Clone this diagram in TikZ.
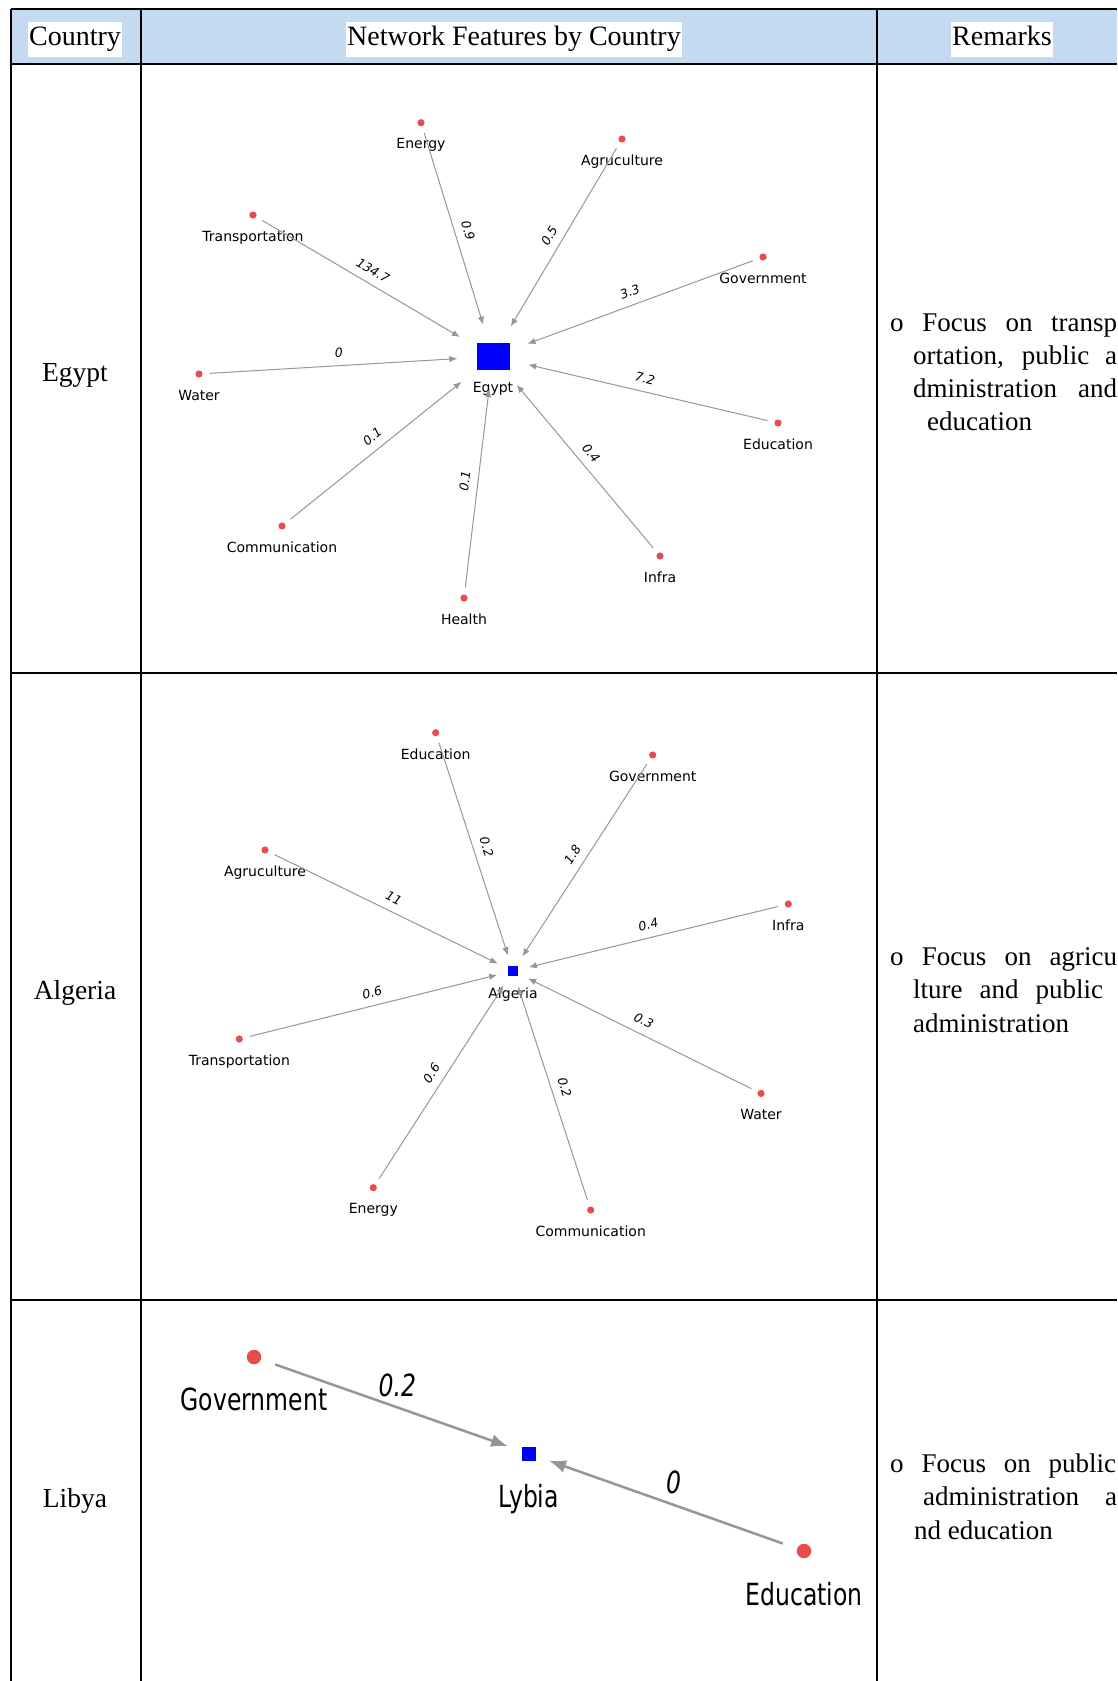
\documentclass[tikz,border=0pt]{standalone}
\usepackage{fontspec}
\setmainfont{Liberation Serif}
\newfontfamily\netfont{DejaVu Sans}
\newfontfamily\netbig[FakeStretch=0.77]{DejaVu Sans}
\usetikzlibrary{arrows.meta,positioning}
\definecolor{headblue}{RGB}{197,217,241}
\definecolor{dotred}{RGB}{233,76,76}
\definecolor{linkgray}{RGB}{150,150,150}

\begin{document}
\begin{tikzpicture}[x=1pt, y=-1pt]
    \tikzset{
        rule/.style={draw=black, line width=1.3pt},
        cellhead/.style={fill=white, inner xsep=1.5pt, inner ysep=4pt, text height=20pt, text depth=7pt, font=\fontsize{28pt}{33pt}\selectfont},
        rowname/.style={font=\fontsize{27.5pt}{33pt}\selectfont},
        remark/.style={anchor=base west, inner sep=0pt, font=\fontsize{27pt}{33pt}\selectfont},
        src/.style={circle, fill=dotred, minimum size=7.2pt, inner sep=0pt},
        srcbig/.style={circle, fill=dotred, minimum size=14.5pt, inner sep=0pt},
        hub/.style={fill=blue, inner sep=0pt},
        lbl/.style={font=\netfont\fontsize{14pt}{14pt}\selectfont, yshift=-8.5pt},
        lblbig/.style={font=\netbig\fontsize{30.5pt}{30.5pt}\selectfont, yshift=-20pt},
        link/.style={draw=linkgray, line width=1pt, -{Latex[length=8pt,width=6.5pt]}, shorten <=7pt, shorten >=19pt},
        linksm/.style={link, shorten >=11pt},
        linkbig/.style={draw=linkgray, line width=2.5pt, -{Latex[length=17pt,width=13pt]}, shorten <=15pt, shorten >=14pt},
        wt/.style={font=\netfont\itshape\fontsize{12.5pt}{12.5pt}\selectfont, sloped, above, pos=0.5, inner sep=8pt},
        wtbig/.style={font=\netbig\itshape\fontsize{30.5pt}{30.5pt}\selectfont, above, inner sep=9pt}
    }

    \useasboundingbox (0,0) rectangle (1117,1681);

    \fill[headblue] (11,9) rectangle (1117,64);
    \draw[rule] (11,9) -- (1117,9);
    \draw[rule] (11,64) -- (1117,64);
    \draw[rule] (11,673) -- (1117,673);
    \draw[rule] (11,1300) -- (1117,1300);
    \draw[rule] (11,9) -- (11,1681);
    \draw[rule] (141,9) -- (141,1681);
    \draw[rule] (877,9) -- (877,1681);

    \node[cellhead] (hCountry) at (75,39) {Country};
    \node[cellhead] (hNetwork) at (514,39) {Network Features by Country};
    \node[cellhead] (hRemarks) at (1002,39) {Remarks};

    \node[rowname] (nEgypt) at (75,375.5) {Egypt};
    \node[rowname] (nAlgeria) at (75,993) {Algeria};
    \node[rowname] (nLibya) at (75,1501) {Libya};

    \node[remark] (rEg1) at (890,331) {\makebox[227pt][s]{o Focus on transp}};
    \node[remark] (rEg2) at (913,364) {\makebox[204pt][s]{ortation, public a}};
    \node[remark] (rEg3) at (913,397.5) {\makebox[204pt][s]{dministration and}};
    \node[remark] (rEg4) at (927,430.5) {education};
    \node[remark] (rAl1) at (890,965) {\makebox[227pt][s]{o Focus on agricu}};
    \node[remark] (rAl2) at (913,998.5) {\makebox[190pt][s]{lture and public}};
    \node[remark] (rAl3) at (913,1032) {administration};
    \node[remark] (rLy1) at (890,1472) {\makebox[226pt][s]{o Focus on public}};
    \node[remark] (rLy2) at (923,1505.5) {\makebox[194pt][s]{administration a}};
    \node[remark] (rLy3) at (914,1539) {nd education};

    \node[hub, minimum width=33pt, minimum height=27pt, label={[lbl]below:Egypt}] (egypt) at (493,356.5) {};
    \node[src, label={[lbl]below:Energy}] (eEnergy) at (421,122.7) {};
    \node[src, label={[lbl]below:Agruculture}] (eAgri) at (622,139) {};
    \node[src, label={[lbl]below:Transportation}] (eTrans) at (253,215) {};
    \node[src, label={[lbl]below:Government}] (eGov) at (763,257) {};
    \node[src, label={[lbl]below:Water}] (eWater) at (199,374) {};
    \node[src, label={[lbl]below:Education}] (eEdu) at (778,423) {};
    \node[src, label={[lbl]below:Communication}] (eComm) at (282,526) {};
    \node[src, label={[lbl]below:Infra}] (eInfra) at (660,556) {};
    \node[src, label={[lbl]below:Health}] (eHealth) at (464,598) {};

    \draw[link] (eEnergy) -- node[wt] {0.9} (egypt);
    \draw[link] (eAgri) -- node[wt] {0.5} (egypt);
    \draw[link] (eTrans) -- node[wt] {134.7} (egypt);
    \draw[link] (eGov) -- node[wt] {3.3} (egypt);
    \draw[link] (eWater) -- node[wt] {0} (egypt);
    \draw[link] (eEdu) -- node[wt] {7.2} (egypt);
    \draw[link] (eComm) -- node[wt] {0.1} (egypt);
    \draw[link] (eInfra) -- node[wt] {0.4} (egypt);
    \draw[link] (eHealth) -- node[wt] {0.1} (egypt);

    \node[hub, minimum size=10pt, label={[lbl]below:Algeria}] (algeria) at (513,971) {};
    \node[src, label={[lbl]below:Education}] (aEdu) at (435.7,732.7) {};
    \node[src, label={[lbl]below:Government}] (aGov) at (652.7,755) {};
    \node[src, label={[lbl]below:Agruculture}] (aAgri) at (265,850) {};
    \node[src, label={[lbl]below:Infra}] (aInfra) at (788.3,904) {};
    \node[src, label={[lbl]below:Transportation}] (aTrans) at (239.3,1039) {};
    \node[src, label={[lbl]below:Water}] (aWater) at (761,1093.4) {};
    \node[src, label={[lbl]below:Energy}] (aEnergy) at (373.3,1187.7) {};
    \node[src, label={[lbl]below:Communication}] (aComm) at (590.7,1210) {};

    \draw[linksm] (aEdu) -- node[wt] {0.2} (algeria);
    \draw[linksm] (aGov) -- node[wt] {1.8} (algeria);
    \draw[linksm] (aAgri) -- node[wt] {11} (algeria);
    \draw[linksm] (aInfra) -- node[wt] {0.4} (algeria);
    \draw[linksm] (aTrans) -- node[wt] {0.6} (algeria);
    \draw[linksm] (aWater) -- node[wt] {0.3} (algeria);
    \draw[linksm] (aEnergy) -- node[wt] {0.6} (algeria);
    \draw[linksm] (aComm) -- node[wt] {0.2} (algeria);

    \node[hub, minimum size=14pt, label={[lblbig]below:Lybia}] (lybia) at (528.5,1453.5) {};
    \node[srcbig, label={[lblbig]below:Government}] (lGov) at (254,1357) {};
    \node[srcbig, label={[lblbig]below:Education}] (lEdu) at (804,1551) {};

    \draw[linkbig] (lGov) -- node[wtbig, pos=0.52, xshift=1pt] {0.2} (lybia);
    \draw[linkbig] (lEdu) -- node[wtbig, pos=0.48, xshift=2pt] {0} (lybia);
\end{tikzpicture}
\end{document}
